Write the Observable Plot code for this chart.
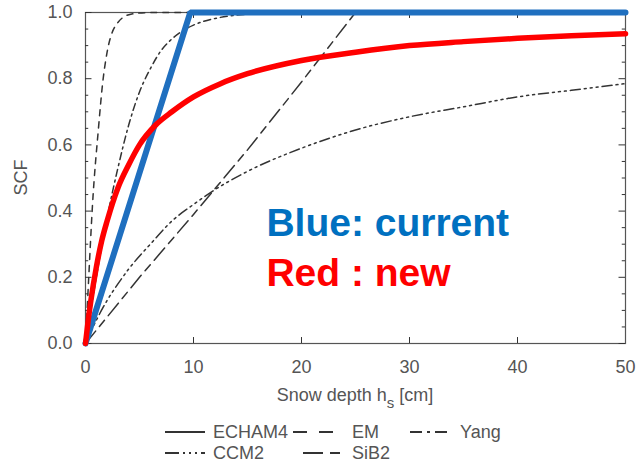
<!DOCTYPE html>
<html><head><meta charset="utf-8">
<script src="https://cdn.jsdelivr.net/npm/d3@7"></script>
<script src="https://cdn.jsdelivr.net/npm/@observablehq/plot@0.6"></script>
<style>
body{margin:0;background:#fff;font-family:"Liberation Sans",Arial,sans-serif}
#chart svg{display:block}
</style>
</head><body><div id="chart"></div>
<script>
// ---- data ----
const xTicks = [0, 10, 20, 30, 40, 50];
const yTicks = [0.0, 0.2, 0.4, 0.6, 0.8, 1.0];
const yMinorTicks = [0.05, 0.1, 0.15, 0.25, 0.3, 0.35, 0.45, 0.5, 0.55, 0.65, 0.7, 0.75, 0.85, 0.9, 0.95];

const blueX = [0, 9.7, 50];
const blueY = [0, 1.0, 1.0];

const redX = [0, 0.25, 0.5, 1, 1.5, 2, 3, 4, 5, 6.5, 8, 10, 12.5, 15, 20, 25, 30, 35, 40, 45, 50];
const redY = [0, 0.07, 0.13, 0.23, 0.31, 0.37, 0.47, 0.54, 0.6, 0.66, 0.70, 0.745, 0.785, 0.815, 0.855, 0.88, 0.90, 0.912, 0.922, 0.93, 0.936];

const emX = [0, 0.3, 0.65, 1.2, 1.6, 2.0, 3.0, 4.2, 6, 50];
const emY = [0, 0.2, 0.42, 0.65, 0.79, 0.88, 0.97, 0.995, 1.0, 1.0];

const yangX = [0, 1, 2, 3, 4, 5, 6, 7, 8, 9, 10, 12, 14, 17, 20, 50];
const yangY = [0, 0.2, 0.38, 0.53, 0.66, 0.76, 0.83, 0.885, 0.92, 0.945, 0.962, 0.982, 0.992, 0.997, 1.0, 1.0];

const ccm2X = [0, 1, 2, 3, 4, 6, 8, 10, 12, 15, 20, 25, 30, 35, 40, 45, 50];
const ccm2Y = [0, 0.07, 0.13, 0.18, 0.225, 0.30, 0.37, 0.42, 0.465, 0.52, 0.59, 0.645, 0.685, 0.715, 0.745, 0.765, 0.785];

const sib2X = [0, 5, 10, 15, 20, 25, 50];
const sib2Y = [0, 0.2, 0.39, 0.585, 0.79, 1.0, 1.0];

const noteTexts = ["Blue: current", "Red : new"];
const noteColors = ["#0070c0", "#ff0000"];
const noteX = [16.75, 16.75];
const noteY = [0.326, 0.175];

const legendNames = ["ECHAM4", "EM", "Yang", "CCM2", "SiB2"];

// ---- build tables ----
const toRows = (xs, ys) => xs.map((x, i) => ({x, y: ys[i]}));
const blue = toRows(blueX, blueY);
const red = toRows(redX, redY);
const em = toRows(emX, emY);
const yang = toRows(yangX, yangY);
const ccm2 = toRows(ccm2X, ccm2Y);
const sib2 = toRows(sib2X, sib2Y);
const notes = noteTexts.map((t, i) => ({t, x: noteX[i], y: noteY[i], c: noteColors[i]}));

const ink = "#333";
const dashes = {EM: "6,6", Yang: "7,4,2,4", CCM2: "10,4,2,4,2,4,2,4", SiB2: "16,6,8,6"};

const chart = Plot.plot({
  width: 641,
  height: 420,
  marginLeft: 85,
  marginRight: 16,
  marginTop: 12,
  marginBottom: 77,
  style: {color: "#555", fontSize: "18px", fontFamily: "'Liberation Sans', Arial, sans-serif", background: "#fff"},
  x: {domain: [0, 50]},
  y: {domain: [0, 1]},
  marks: [
    Plot.frame({stroke: "#555", strokeWidth: 1.2}),
    // inward ticks
    Plot.ruleY(yTicks, {y: d => d, x1: 0, x2: 0.6, stroke: ink}),
    Plot.ruleY(yMinorTicks, {y: d => d, x1: 0, x2: 0.3, stroke: ink}),
    Plot.ruleY(yTicks, {y: d => d, x1: 49.4, x2: 50, stroke: ink}),
    Plot.ruleY(yMinorTicks, {y: d => d, x1: 49.7, x2: 50, stroke: ink}),
    Plot.ruleX(xTicks.slice(1, -1), {x: d => d, y1: 0, y2: 0.018, stroke: ink}),
    Plot.ruleX(xTicks.slice(1, -1), {x: d => d, y1: 0.982, y2: 1, stroke: ink}),
    Plot.axisY(yTicks, {tickSize: 0, tickPadding: 13, tickFormat: d3.format(".1f"), label: null}),
    Plot.axisX(xTicks, {tickSize: 0, tickPadding: 17, label: null}),
    // reference schemes
    Plot.line(em, {x: "x", y: "y", stroke: ink, strokeWidth: 1.5, strokeDasharray: dashes.EM, curve: "monotone-x"}),
    Plot.line(yang, {x: "x", y: "y", stroke: ink, strokeWidth: 1.5, strokeDasharray: dashes.Yang, curve: "monotone-x"}),
    Plot.line(ccm2, {x: "x", y: "y", stroke: ink, strokeWidth: 1.5, strokeDasharray: dashes.CCM2, curve: "monotone-x"}),
    Plot.line(sib2, {x: "x", y: "y", stroke: ink, strokeWidth: 1.5, strokeDasharray: dashes.SiB2, curve: "linear"}),
    // current and new
    Plot.line(blue, {x: "x", y: "y", stroke: "#1f6fbf", strokeWidth: 6, strokeLinejoin: "miter"}),
    Plot.line(red, {x: "x", y: "y", stroke: "#ff0000", strokeWidth: 5.5, curve: "monotone-x"}),
    Plot.text(notes, {x: "x", y: "y", text: "t", fill: "c", textAnchor: "start", lineAnchor: "bottom",
      fontSize: 39, fontWeight: "bold", fontFamily: "'Liberation Sans', Arial, sans-serif"})
  ]
});

const svg = d3.select(chart);
const xs = chart.scale("x"), ys = chart.scale("y");
// y axis label
svg.append("text")
  .attr("transform", `translate(22,${ys.apply(0.5)}) rotate(-90)`)
  .attr("text-anchor", "middle").attr("dominant-baseline", "middle")
  .attr("fill", "#555").attr("font-size", 18).text("SCF");
// x axis label with subscript
const xl = svg.append("text")
  .attr("x", xs.apply(25)).attr("y", 401)
  .attr("text-anchor", "middle").attr("fill", "#555").attr("font-size", 18);
xl.append("tspan").text("Snow depth h");
xl.append("tspan").attr("font-size", 15).attr("dy", 7).text("s");
xl.append("tspan").attr("dy", -7).text(" [cm]");

document.getElementById("chart").appendChild(chart);

// ---- legend below the chart ----
const legendItems = [
  {name: legendNames[0], dash: null, x0: 165, x1: 205, tx: 213, row: 0},
  {name: legendNames[1], dash: "14,12", x0: 293, x1: 333, tx: 352, row: 0},
  {name: legendNames[2], dash: "12,5,3,5", x0: 410, x1: 450, tx: 460, row: 0},
  {name: legendNames[3], dash: "14,4,2,4,2,4,2,4", x0: 165, x1: 205, tx: 213, row: 1},
  {name: legendNames[4], dash: "20,7,10,7", x0: 303, x1: 340, tx: 352, row: 1}
];
const leg = d3.select("#chart").append("svg").attr("width", 641).attr("height", 42)
  .style("display", "block").style("font-family", "'Liberation Sans', Arial, sans-serif");
const rowY = [12, 33];
for (const it of legendItems) {
  leg.append("line").attr("x1", it.x0).attr("x2", it.x1).attr("y1", rowY[it.row]).attr("y2", rowY[it.row])
    .attr("stroke", ink).attr("stroke-width", 2).attr("stroke-dasharray", it.dash);
  leg.append("text").attr("x", it.tx).attr("y", rowY[it.row]).attr("dy", "0.35em")
    .attr("fill", "#555").attr("font-size", 18).text(it.name);
}
</script>
</body></html>
